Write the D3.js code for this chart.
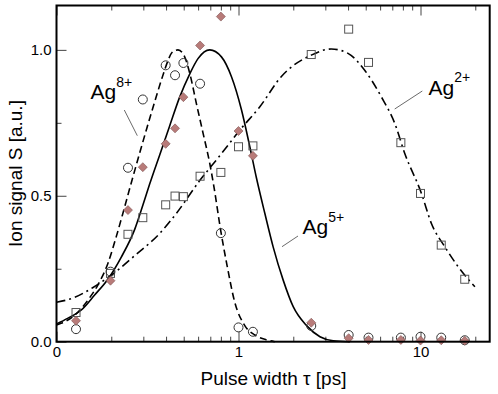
<!DOCTYPE html>
<html>
<head>
<meta charset="utf-8">
<script src="https://cdn.jsdelivr.net/npm/d3@7"></script>
<style>
  body { margin: 0; background: #fff; }
  svg { display: block; font-family: "Liberation Sans", Arial, sans-serif; }
</style>
</head>
<body>
<div id="chart"></div>
<script>
// pulse widths of the measured points [ps]
const tau = [0.128, 0.198, 0.247, 0.298, 0.398, 0.448, 0.498, 0.615, 0.80, 1.0, 1.2, 2.51, 4.03, 5.18, 7.8, 10.0, 13.0, 17.5];
// measured ion signals
const sAg8 = [0.043, 0.24, 0.596, 0.83, 0.947, 0.913, 0.955, 0.884, 0.372, 0.049, 0.034, 0.054, 0.023, 0.014, 0.014, 0.017, 0.014, 0.005];
const sAg5 = [0.072, 0.209, 0.451, 0.598, 0.678, 0.731, 0.838, 1.015, 1.114, 0.722, 0.637, 0.065, 0.012, 0.006, 0.006, 0.004, 0.005, 0.003];
const sAg2 = [0.10, 0.234, 0.368, 0.425, 0.469, 0.499, 0.497, 0.567, 0.58, 0.668, 0.671, 0.984, 1.071, 0.957, 0.682, 0.508, 0.331, 0.214];

// fitted curves
const fitTau8 = [0.1, 0.106, 0.126, 0.149, 0.169, 0.192, 0.213, 0.234, 0.259, 0.286, 0.313, 0.338, 0.383, 0.408, 0.430, 0.465, 0.506, 0.540, 0.587, 0.639, 0.695, 0.731, 0.799, 0.866, 0.954, 1.083, 1.229, 1.431, 1.584];
const fitS8 = [0.057, 0.063, 0.091, 0.143, 0.195, 0.27, 0.36, 0.45, 0.55, 0.645, 0.73, 0.80, 0.91, 0.96, 0.99, 1.0, 0.976, 0.919, 0.816, 0.714, 0.611, 0.535, 0.38, 0.26, 0.135, 0.055, 0.023, 0.006, 0.0];
const fitTau5 = [0.1, 0.115, 0.137, 0.162, 0.192, 0.227, 0.269, 0.299, 0.325, 0.369, 0.419, 0.475, 0.540, 0.599, 0.695, 0.806, 0.915, 1.039, 1.154, 1.256, 1.395, 1.550, 1.760, 1.998, 2.367, 2.803, 3.316, 4.1];
const fitS5 = [0.061, 0.080, 0.109, 0.16, 0.215, 0.29, 0.385, 0.47, 0.54, 0.64, 0.74, 0.838, 0.918, 0.970, 1.0, 0.976, 0.908, 0.794, 0.668, 0.56, 0.44, 0.325, 0.211, 0.12, 0.055, 0.017, 0.003, 0.0];
const fitTau2 = [0.1, 0.126, 0.158, 0.218, 0.269, 0.369, 0.456, 0.612, 0.789, 1.017, 1.31, 1.716, 2.51, 3.233, 3.997, 4.937, 6.093, 7.221, 8.196, 10.12, 11.48, 13.61, 16.1, 19.9];
const fitS2 = [0.135, 0.152, 0.185, 0.246, 0.295, 0.371, 0.44, 0.552, 0.637, 0.725, 0.805, 0.908, 0.982, 1.003, 0.988, 0.930, 0.839, 0.748, 0.645, 0.508, 0.405, 0.325, 0.257, 0.188];

// axis ticks
const xMajor = [0.1, 1, 10];
const xMajorLabels = ["0", "1", "10"];
const xMinor = [0.2, 0.3, 0.4, 0.5, 0.6, 0.7, 0.8, 0.9, 2, 3, 4, 5, 6, 7, 8, 9, 20];
const yMajor = [0, 0.5, 1.0];
const yMinor = [0.25, 0.75];

const W = 498, H = 394;
const margin = {top: 5.5, right: 8.3, bottom: 52.3, left: 56.5},
    width = W - margin.left - margin.right,
    height = H - margin.top - margin.bottom;

const svg = d3.select("#chart")
    .append("svg")
    .attr("width", W)
    .attr("height", H)
    .append("g")
    .attr("transform", `translate(${margin.left}, ${margin.top})`);

const x = d3.scaleLog().domain([0.1, 24]).range([0, width]);
const y = d3.scaleLinear().domain([0, 1.152]).range([height, 0]);

// axes: ticks point inward
function styleAxis(g) {
    g.select(".domain").remove();
    g.selectAll(".tick line").attr("stroke", "#444").attr("stroke-width", 1);
    g.selectAll(".tick text").attr("fill", "#000").style("font-size", "15px");
}

svg.append("g")
    .attr("transform", `translate(0, ${height})`)
    .call(d3.axisBottom(x).tickValues(xMajor).tickSize(-10).tickPadding(5)
        .tickFormat((d, i) => xMajorLabels[i]))
    .call(styleAxis);
svg.append("g")
    .attr("transform", `translate(0, ${height})`)
    .call(d3.axisBottom(x).tickValues(xMinor).tickSize(-5).tickFormat(""))
    .call(styleAxis);
svg.append("g")
    .call(d3.axisTop(x).tickValues(xMajor).tickSize(-10).tickFormat(""))
    .call(styleAxis);
svg.append("g")
    .call(d3.axisTop(x).tickValues(xMinor).tickSize(-5).tickFormat(""))
    .call(styleAxis);
svg.append("g")
    .call(d3.axisLeft(y).tickValues(yMajor).tickSize(-10).tickPadding(5)
        .tickFormat(d3.format(".1f")))
    .call(styleAxis);
svg.append("g")
    .call(d3.axisLeft(y).tickValues(yMinor).tickSize(-5).tickFormat(""))
    .call(styleAxis);

// fitted curves
const line = d3.line()
    .x(d => x(d[0]))
    .y(d => y(d[1]))
    .curve(d3.curveMonotoneX);

const curves = [
    {t: fitTau8, s: fitS8, dash: "7,4"},
    {t: fitTau5, s: fitS5, dash: null},
    {t: fitTau2, s: fitS2, dash: "9,4,2,4"}
];
curves.forEach(c => {
    svg.append("path")
        .datum(c.t.map((t, i) => [t, c.s[i]]))
        .attr("d", line)
        .attr("fill", "none")
        .attr("stroke", "#000")
        .attr("stroke-width", 1.6)
        .attr("stroke-dasharray", c.dash);
});

// measured points
svg.selectAll(".sq")
    .data(tau.map((t, i) => [t, sAg2[i]]))
    .enter()
    .append("rect")
    .attr("x", d => x(d[0]) - 4)
    .attr("y", d => y(d[1]) - 4)
    .attr("width", 8)
    .attr("height", 8)
    .attr("fill", "none")
    .attr("stroke", "#555")
    .attr("stroke-width", 1);

svg.selectAll(".circ")
    .data(tau.map((t, i) => [t, sAg8[i]]))
    .enter()
    .append("circle")
    .attr("cx", d => x(d[0]))
    .attr("cy", d => y(d[1]))
    .attr("r", 4.5)
    .attr("fill", "none")
    .attr("stroke", "#333")
    .attr("stroke-width", 1);

svg.selectAll(".dia")
    .data(tau.map((t, i) => [t, sAg5[i]]))
    .enter()
    .append("path")
    .attr("transform", d => `translate(${x(d[0])}, ${y(d[1])})`)
    .attr("d", "M0,-4.5L4.5,0L0,4.5L-4.5,0Z")
    .attr("fill", "#b87b79")
    .attr("stroke", "#7d5352")
    .attr("stroke-width", 0.6);

// frame
svg.append("rect")
    .attr("width", width)
    .attr("height", height)
    .attr("fill", "none")
    .attr("stroke", "#000")
    .attr("stroke-width", 2);

// curve labels with leader lines
const labels = [
    {tx: 90.5, ty: 99, sup: "8+", sdy: -12.5, l: [124.3, 110, 137.3, 135.7]},
    {tx: 428.5, ty: 95, sup: "2+", sdy: -13, l: [422.3, 91, 394.7, 109]},
    {tx: 302.5, ty: 233.5, sup: "5+", sdy: -12, l: [298, 236, 282, 246.7]}
];
labels.forEach(d => {
    const t = svg.append("text")
        .attr("x", d.tx - margin.left)
        .attr("y", d.ty - margin.top)
        .style("font-size", "21px")
        .text("Ag");
    t.append("tspan")
        .attr("dy", d.sdy)
        .style("font-size", "14px")
        .text(d.sup);
    svg.append("line")
        .attr("x1", d.l[0] - margin.left).attr("y1", d.l[1] - margin.top)
        .attr("x2", d.l[2] - margin.left).attr("y2", d.l[3] - margin.top)
        .attr("stroke", "#444")
        .attr("stroke-width", 0.8);
});

// axis titles
svg.append("text")
    .attr("x", 273.5 - margin.left)
    .attr("y", height + 43)
    .attr("text-anchor", "middle")
    .style("font-size", "19px")
    .text("Pulse width \u03c4 [ps]");

svg.append("text")
    .attr("transform", "rotate(-90)")
    .attr("x", -(173.5 - margin.top))
    .attr("y", 22 - margin.left)
    .attr("text-anchor", "middle")
    .style("font-size", "19px")
    .text("Ion signal S  [a.u.]");
</script>
</body>
</html>
